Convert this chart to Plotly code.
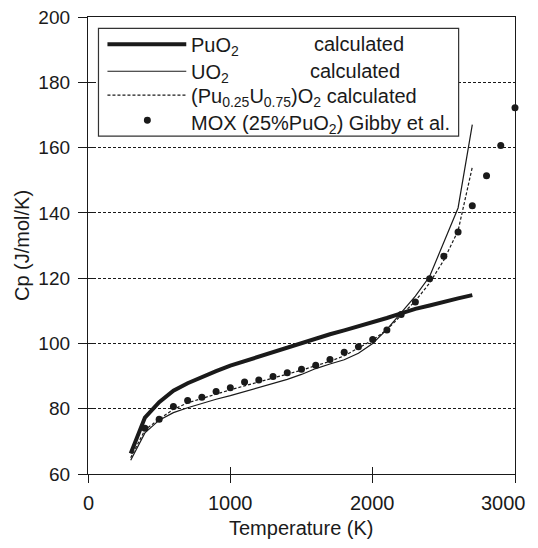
import plotly.graph_objects as go

# ---- data ----
T_calc = [300, 400, 500, 600, 700, 800, 900, 1000, 1100, 1200, 1300, 1400, 1500,
          1600, 1700, 1800, 1900, 2000, 2100, 2200, 2300, 2400, 2500, 2600, 2700]
cp_puo2 = [66.3, 77.3, 82.0, 85.5, 87.8, 89.8, 91.5, 93.2, 94.6, 96.0, 97.3, 98.8, 100.0,
           101.5, 102.8, 104.0, 105.2, 106.4, 107.8, 109.2, 110.6, 111.6, 112.8, 113.8, 114.8]
cp_uo2 = [64.2, 72.6, 76.5, 78.8, 80.3, 81.7, 82.9, 84.0, 85.2, 86.4, 87.6, 89.0, 90.5,
          92.3, 93.7, 95.0, 97.0, 100.0, 104.3, 109.3, 114.5, 120.5, 131.0, 141.5, 167.0]
cp_mox_calc = [65.0, 73.5, 76.8, 79.8, 81.8, 83.2, 84.6, 85.8, 87.0, 88.2, 89.3, 90.5, 91.8,
               93.2, 94.5, 96.2, 98.5, 101.0, 104.2, 108.7, 113.0, 118.5, 125.5, 134.5, 154.0]
T_exp = [400, 500, 600, 700, 800, 900, 1000, 1100, 1200, 1300, 1400, 1500, 1600, 1700,
         1800, 1900, 2000, 2100, 2200, 2300, 2400, 2500, 2600, 2700, 2800, 2900, 3000]
cp_mox_exp = [74.0, 76.8, 80.7, 82.5, 83.5, 85.3, 86.4, 88.2, 88.8, 89.9, 91.0, 92.1, 93.3, 95.1,
              97.3, 99.0, 101.2, 104.1, 108.9, 112.7, 119.8, 126.7, 134.1, 142.2, 151.4, 160.6, 172.2]
x_ticks = [0, 1000, 2000, 3000]
x_tick_labels = ["0", "1000", "2000", "3000"]
y_ticks = [60, 80, 100, 120, 140, 160, 180, 200]
legend_names = ["PuO<sub>2</sub>", "UO<sub>2</sub>",
                "(Pu<sub>0.25</sub>U<sub>0.75</sub>)O<sub>2</sub> calculated",
                "MOX (25%PuO<sub>2</sub>) Gibby et al."]

# ---- layout geometry (page has an 8px body margin) ----
OFF = 8
W, H = 538 - OFF, 548 - OFF
X_LEFT, X_RIGHT, Y_TOP, Y_BOT = 87.5 - OFF, 515.5 - OFF, 16.7 - OFF, 474.3 - OFF
ML, MR, MT, MB = X_LEFT, W - X_RIGHT, Y_TOP, H - Y_BOT
PW, PH = X_RIGHT - X_LEFT, Y_BOT - Y_TOP
FONT = "Liberation Sans, Arial, sans-serif"
INK = "#1a1a1a"


def px(xp):
    return (xp - OFF - X_LEFT) / PW


def py(yp):
    return 1 - (yp - OFF - Y_TOP) / PH


fig = go.Figure()
fig.add_trace(go.Scatter(x=T_calc, y=cp_puo2, mode="lines",
                         line=dict(color=INK, width=4), showlegend=False))
fig.add_trace(go.Scatter(x=T_calc, y=cp_uo2, mode="lines",
                         line=dict(color=INK, width=1.2), showlegend=False))
fig.add_trace(go.Scatter(x=T_calc, y=cp_mox_calc, mode="lines",
                         line=dict(color=INK, width=1.2, dash="3px,2px"), showlegend=False))
fig.add_trace(go.Scatter(x=T_exp, y=cp_mox_exp, mode="markers", cliponaxis=False,
                         marker=dict(color=INK, size=7), showlegend=False))
# dummy trace to carry the inner tick axes
fig.add_trace(go.Scatter(x=[None], y=[None], xaxis="x2", yaxis="y2",
                         showlegend=False, hoverinfo="skip"))

axis_common = dict(showline=True, linecolor=INK, linewidth=1.3, zeroline=False,
                   automargin=False, ticklabeloverflow="allow",
                   tickcolor=INK, tickwidth=1.3)

fig.update_layout(
    width=W, height=H,
    margin=dict(l=ML, r=MR, t=MT, b=MB, pad=0),
    paper_bgcolor="white", plot_bgcolor="white",
    font=dict(family=FONT, color=INK, size=20),
    showlegend=False,
    xaxis=dict(range=[0, 3000], tickvals=x_ticks, ticks="outside", ticklen=8,
               showticklabels=False, mirror=True, showgrid=False,
               **axis_common),
    yaxis=dict(range=[60, 200], tickvals=y_ticks, ticks="outside", ticklen=9,
               ticklabelstandoff=4,
               tickfont=dict(family=FONT, size=19, color=INK),
               mirror=True, showgrid=True, gridcolor=INK, gridwidth=1, griddash="3px,2px",
               title=dict(text="Cp (J/mol/K)", font=dict(family=FONT, size=20, color=INK),
                          standoff=3),
               **axis_common),
    xaxis2=dict(range=[0, 3000], tickvals=x_ticks, ticks="inside", ticklen=7,
                overlaying="x", anchor="y2", side="bottom", showticklabels=False,
                automargin=False,
                showgrid=False, zeroline=False, showline=False, tickcolor=INK, tickwidth=1.3),
    yaxis2=dict(range=[60, 200], tickvals=y_ticks, ticks="inside", ticklen=5,
                overlaying="y", anchor="x2", side="left", showticklabels=False,
                automargin=False,
                showgrid=False, zeroline=False, showline=False, tickcolor=INK, tickwidth=1.3),
)

# ---- manual legend (positions in page pixels of the reference) ----
shapes = []
shapes.append(dict(type="rect", xref="paper", yref="paper",
                   x0=px(98), x1=px(459), y0=py(136), y1=py(28),
                   line=dict(color="#333333", width=1.2), fillcolor="white", layer="above"))
rows = [44, 71, 95, 120]
x0s, x1s = px(107), px(186)
shapes.append(dict(type="line", xref="paper", yref="paper", x0=x0s, x1=x1s,
                   y0=py(rows[0]), y1=py(rows[0]), line=dict(color=INK, width=4), layer="above"))
shapes.append(dict(type="line", xref="paper", yref="paper", x0=x0s, x1=x1s,
                   y0=py(rows[1]), y1=py(rows[1]), line=dict(color=INK, width=1.2), layer="above"))
shapes.append(dict(type="line", xref="paper", yref="paper", x0=x0s, x1=x1s,
                   y0=py(rows[2]), y1=py(rows[2]),
                   line=dict(color=INK, width=1.2, dash="3px,2px"), layer="above"))
shapes.append(dict(type="circle", xref="paper", yref="paper",
                   x0=px(147 - 3.5), x1=px(147 + 3.5), y0=py(rows[3] + 3.5), y1=py(rows[3] - 3.5),
                   line=dict(color=INK, width=0), fillcolor=INK, layer="above"))
fig.update_layout(shapes=shapes)

ann = []
text_y = [46, 73, 97, 124]
for name, yy in zip(legend_names, text_y):
    ann.append(dict(xref="paper", yref="paper", x=px(189), y=py(yy), text=name,
                    showarrow=False, xanchor="left", yanchor="middle",
                    font=dict(family=FONT, size=20, color=INK)))
for yy, xx in [(text_y[0], 312), (text_y[1], 308)]:
    ann.append(dict(xref="paper", yref="paper", x=px(xx), y=py(yy - 2), text="calculated",
                    showarrow=False, xanchor="left", yanchor="middle",
                    font=dict(family=FONT, size=20, color=INK)))

# x tick labels (drawn as text so the last one stays inside the page)
for v, lab in zip(x_ticks, x_tick_labels):
    last = v == x_ticks[-1]
    ann.append(dict(xref="x", yref="paper", x=v, y=py(503), text=lab, showarrow=False,
                    xanchor="right" if last else "center", yanchor="middle",
                    xshift=13 if last else 0,
                    font=dict(family=FONT, size=20, color=INK)))
# x axis title
ann.append(dict(xref="paper", yref="paper", x=0.5, y=py(528), text="Temperature (K)",
                showarrow=False, xanchor="center", yanchor="middle",
                font=dict(family=FONT, size=20, color=INK)))
fig.update_layout(annotations=ann)

fig.write_html("out.html")
